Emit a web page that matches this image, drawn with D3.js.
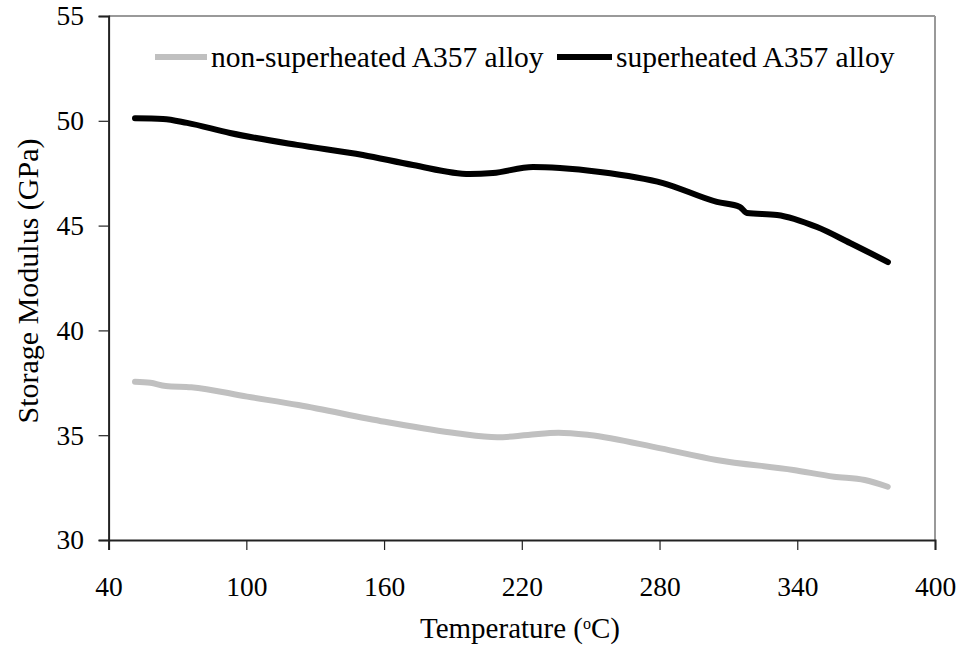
<!DOCTYPE html>
<html>
<head>
<meta charset="utf-8">
<script src="https://cdn.jsdelivr.net/npm/d3@7"></script>
<style>
  body { margin: 0; background: #fff; }
  svg text { font-family: "Liberation Serif", "Times New Roman", serif !important; fill: #000; }
</style>
</head>
<body>
<div id="chart"></div>
<script>
// temperature (°C) and storage modulus (GPa)
const superT = [51.5, 63.7, 74.2, 92.9, 122.1, 150.8, 172.6, 197.4, 207.4, 224.9, 236.6, 254.1, 281.5, 305.0, 315.0, 318.1, 331.2, 348.6, 363.0, 379.5]
const superV = [50.12, 50.09, 49.90, 49.42, 48.85, 48.37, 47.89, 47.46, 47.51, 47.80, 47.75, 47.56, 47.03, 46.13, 45.89, 45.60, 45.51, 44.93, 44.17, 43.26]

const nonT = [51.5, 58.2, 64.9, 76.0, 100.4, 122.7, 160.4, 191.6, 209.3, 222.7, 236.0, 249.4, 280.5, 304.9, 338.3, 356.0, 369.4, 379.4]
const nonV = [37.55, 37.50, 37.35, 37.29, 36.84, 36.44, 35.64, 35.09, 34.90, 35.01, 35.12, 35.01, 34.37, 33.82, 33.34, 33.02, 32.86, 32.54]

const xTicks = [40, 100, 160, 220, 280, 340, 400]
const yTicks = [30, 35, 40, 45, 50, 55]

const seriesNames = ['non-superheated A357 alloy', 'superheated A357 alloy']
const seriesColors = ['#c0c0c0', '#000000']

const W = 961, H = 650
const margin = { left: 108.6, right: 26, top: 16, bottom: 110 }
const width = W - margin.left - margin.right
const height = H - margin.top - margin.bottom

const svg = d3.select('#chart').append('svg')
  .attr('width', W).attr('height', H)
  .attr('font-family', '"Liberation Serif", serif')

const g = svg.append('g').attr('transform', `translate(${margin.left},${margin.top})`)

const x = d3.scaleLinear().domain([40, 400]).range([0, width])
const y = d3.scaleLinear().domain([30, 55]).range([height, 0])

// frame on top and right
g.append('line').attr('x1', 0).attr('x2', width).attr('y1', 0).attr('y2', 0)
  .attr('stroke', '#999').attr('stroke-width', 2)
g.append('line').attr('x1', width).attr('x2', width).attr('y1', 0).attr('y2', height)
  .attr('stroke', '#999').attr('stroke-width', 2)

// axes
const xAxis = g.append('g').attr('transform', `translate(0,${height})`)
  .call(d3.axisBottom(x).tickValues(xTicks).tickSize(10).tickPadding(26).tickFormat(d3.format('d')))
const yAxis = g.append('g')
  .call(d3.axisLeft(y).tickValues(yTicks).tickSize(10).tickPadding(14.5).tickFormat(d3.format('d')))

;[xAxis, yAxis].forEach(a => {
  a.attr('font-family', '"Liberation Serif", serif')
  a.select('.domain').attr('stroke', '#222').attr('stroke-width', 2)
  a.selectAll('.tick line').attr('stroke', '#222').attr('stroke-width', 1.2)
  a.selectAll('.tick text').style('font-size', '27.5px').attr('fill', '#000')
})

// lines
const line = d3.line().curve(d3.curveMonotoneX)
  .x(d => x(d[0])).y(d => y(d[1]))

g.append('path').datum(nonT.map((t, i) => [t, nonV[i]]))
  .attr('d', line).attr('fill', 'none')
  .attr('stroke', seriesColors[0]).attr('stroke-width', 6).attr('stroke-linecap', 'round')

g.append('path').datum(superT.map((t, i) => [t, superV[i]]))
  .attr('d', line).attr('fill', 'none')
  .attr('stroke', seriesColors[1]).attr('stroke-width', 6).attr('stroke-linecap', 'round')

// legend
const legendY = 57
const legendItems = [{ x1: 155, x2: 207, tx: 211 }, { x1: 557, x2: 612, tx: 616 }]
legendItems.forEach((it, i) => {
  svg.append('line').attr('x1', it.x1).attr('x2', it.x2).attr('y1', legendY).attr('y2', legendY)
    .attr('stroke', seriesColors[i]).attr('stroke-width', 6)
  svg.append('text').attr('x', it.tx).attr('y', legendY)
    .attr('dy', '0.35em').style('font-size', '29.5px')
    .text(seriesNames[i])
})

// axis titles
const xt = svg.append('text').attr('x', 520).attr('y', 638)
  .attr('text-anchor', 'middle').style('font-size', '29px')
xt.append('tspan').text('Temperature (')
xt.append('tspan').text('o').attr('baseline-shift', '55%').style('font-size', '16px')
xt.append('tspan').text('C)')

svg.append('text')
  .attr('transform', `translate(27,281) rotate(-90)`)
  .attr('text-anchor', 'middle').attr('dy', '0.35em').style('font-size', '30px')
  .text('Storage Modulus (GPa)')
</script>
</body>
</html>
